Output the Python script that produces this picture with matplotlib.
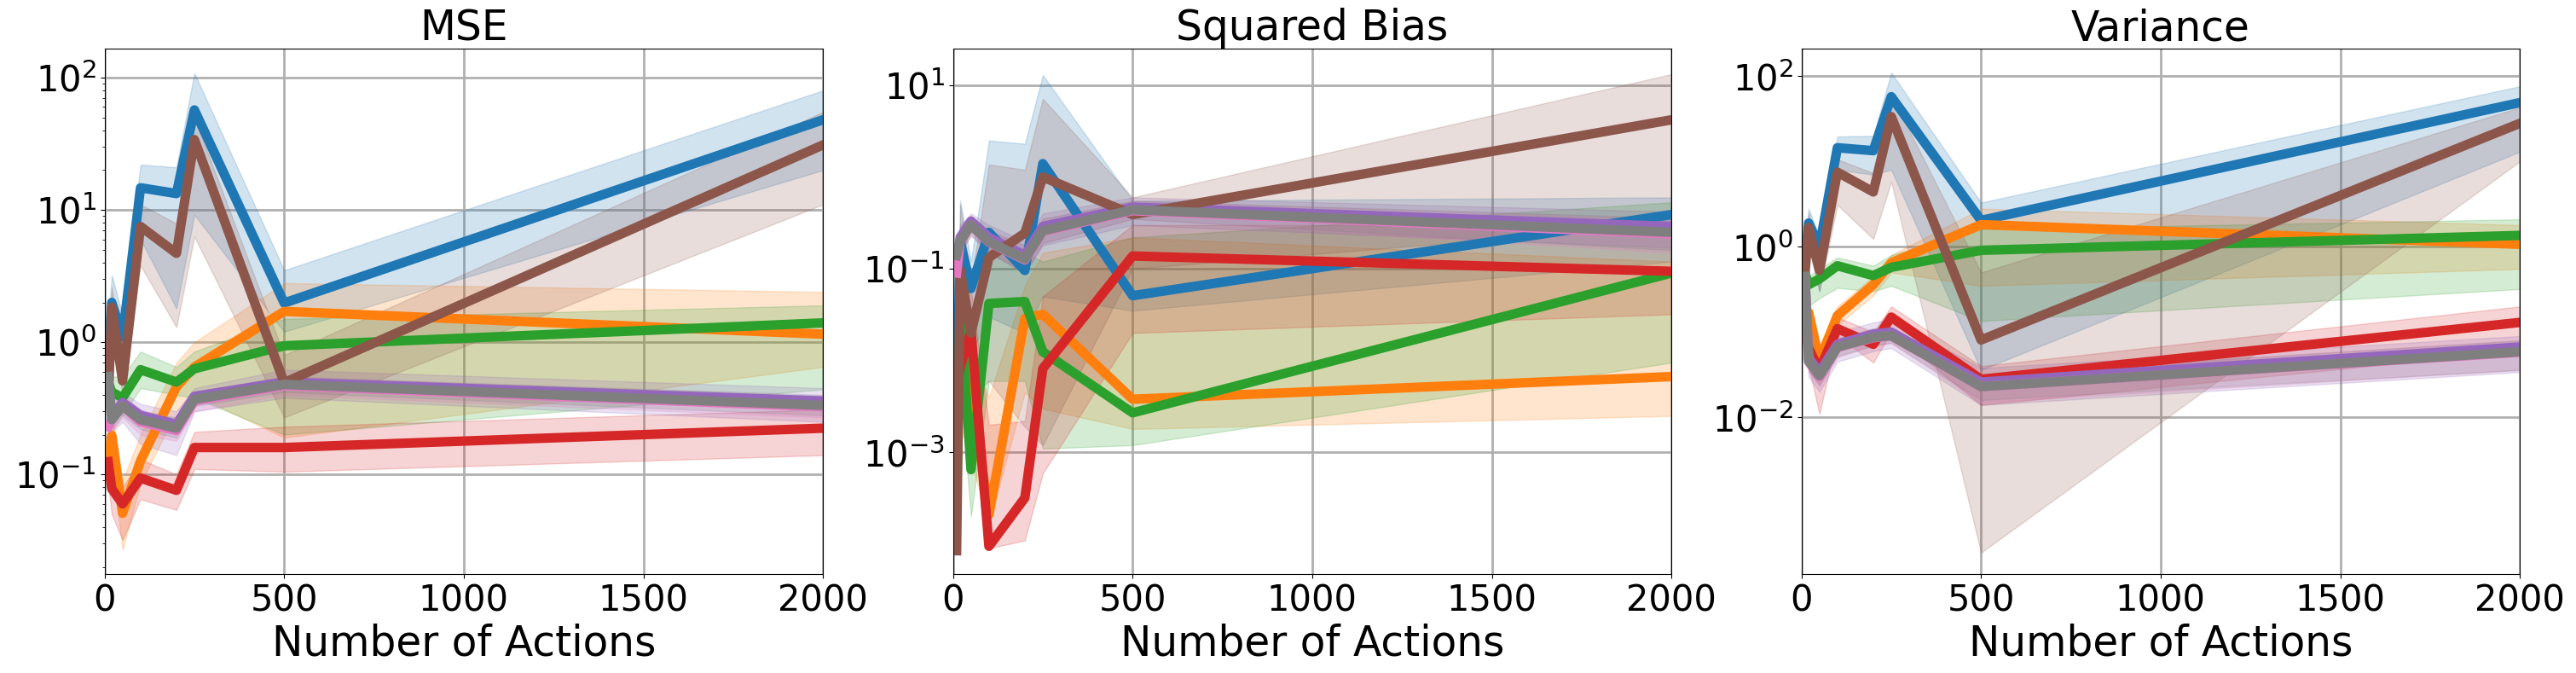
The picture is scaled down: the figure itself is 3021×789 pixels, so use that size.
import numpy as np
import matplotlib
matplotlib.use("Agg")
import matplotlib.pyplot as plt
from matplotlib.ticker import NullLocator

# number of actions (same grid in every panel)
n_actions = [10, 20, 50, 100, 200, 250, 500, 2000]

colors = ["#1f77b4", "#ff7f0e", "#2ca02c", "#d62728",
          "#9467bd", "#8c564b", "#e377c2", "#7f7f7f"]

# ---------------- MSE ----------------
mse_blue = [0.8, 2.0, 1.1, 14.7, 13.3, 57, 1.98, 48]
mse_blue_lo = [0.55, 1.4, 0.65, 6.0, 1.8, 9.2, 1.2, 20]
mse_blue_hi = [1.3, 3.2, 1.6, 22, 21, 108, 3.5, 80]
mse_orange = [0.133, 0.198, 0.051, 0.127, 0.46, 0.65, 1.71, 1.15]
mse_orange_lo = [0.09, 0.13, 0.027, 0.085, 0.3, 0.4, 0.19, 0.65]
mse_orange_hi = [0.2, 0.3, 0.09, 0.2, 0.7, 1.0, 2.8, 2.4]
mse_green = [0.5, 0.42, 0.38, 0.62, 0.5, 0.63, 0.94, 1.4]
mse_green_lo = [0.38, 0.3, 0.28, 0.45, 0.4, 0.38, 0.2, 0.44]
mse_green_hi = [0.65, 0.55, 0.55, 0.85, 0.65, 0.85, 1.5, 1.9]
mse_red = [0.125, 0.078, 0.06, 0.094, 0.076, 0.16, 0.16, 0.224]
mse_red_lo = [0.085, 0.05, 0.032, 0.065, 0.054, 0.11, 0.105, 0.14]
mse_red_hi = [0.19, 0.1, 0.08, 0.13, 0.1, 0.21, 0.23, 0.31]
mse_purple = [0.5, 0.28, 0.35, 0.28, 0.24, 0.39, 0.5, 0.36]
mse_purple_lo = [0.3, 0.21, 0.25, 0.17, 0.14, 0.3, 0.38, 0.25]
mse_purple_hi = [0.7, 0.34, 0.42, 0.34, 0.3, 0.45, 0.62, 0.45]
mse_brown = [0.35, 1.84, 0.51, 7.5, 4.7, 34, 0.495, 31]
mse_brown_lo = [0.2, 1.3, 0.4, 3.8, 1.3, 6.3, 0.27, 11]
mse_brown_hi = [0.6, 2.6, 0.7, 11, 7.9, 50, 0.8, 55]
mse_pink = [0.23, 0.26, 0.33, 0.25, 0.215, 0.36, 0.47, 0.325]
mse_pink_lo = [0.19, 0.21, 0.27, 0.2, 0.18, 0.3, 0.4, 0.27]
mse_pink_hi = [0.28, 0.31, 0.4, 0.31, 0.26, 0.42, 0.55, 0.39]
mse_gray = [0.55, 0.26, 0.33, 0.26, 0.224, 0.37, 0.48, 0.333]
mse_gray_lo = [0.45, 0.22, 0.28, 0.22, 0.19, 0.33, 0.42, 0.28]
mse_gray_hi = [0.65, 0.3, 0.38, 0.3, 0.27, 0.42, 0.55, 0.4]

# ---------------- Squared Bias ----------------
bias_blue = [0.002, 0.2, 0.061, 0.25, 0.096, 1.4, 0.051, 0.39]
bias_blue_lo = [5e-4, 0.03, 0.012, 0.03, 0.02, 0.05, 0.035, 0.12]
bias_blue_hi = [0.01, 0.55, 0.12, 2.5, 2.3, 12.9, 0.55, 0.6]
bias_orange = [0.0089, 0.0074, 0.005, 2.1e-4, 0.029, 0.032, 0.0038, 0.0067]
bias_orange_lo = [0.003, 0.002, 8e-4, 1.7e-4, 0.0045, 0.003, 0.0018, 0.0025]
bias_orange_hi = [0.02, 0.02, 0.012, 0.004, 0.065, 0.15, 0.22, 0.12]
bias_green = [3e-4, 0.041, 6.5e-4, 0.042, 0.044, 0.0125, 0.0027, 0.09]
bias_green_lo = [1e-4, 0.005, 2e-4, 0.006, 0.006, 0.0011, 0.0012, 0.0095]
bias_green_hi = [0.01, 0.2, 0.01, 0.2, 0.15, 0.12, 0.22, 0.53]
bias_red = [0.0055, 0.0085, 0.021, 9.5e-5, 3.2e-4, 0.0082, 0.138, 0.094]
bias_red_lo = [0.002, 0.003, 0.004, 9e-5, 1.1e-4, 5.9e-4, 0.02, 0.032]
bias_red_hi = [0.015, 0.03, 0.06, 0.002, 0.0022, 0.05, 0.3, 0.3]
bias_purple = [0.12, 0.22, 0.33, 0.22, 0.14, 0.29, 0.47, 0.29]
bias_purple_lo = [0.08, 0.15, 0.25, 0.15, 0.09, 0.18, 0.3, 0.17]
bias_purple_hi = [0.18, 0.3, 0.4, 0.3, 0.2, 0.4, 0.6, 0.42]
bias_brown = [8.5e-5, 0.097, 0.02, 0.133, 0.245, 1.0, 0.39, 4.2]
bias_brown_lo = [8.5e-5, 0.01, 0.004, 0.006, 0.0019, 0.0012, 0.1, 0.3]
bias_brown_hi = [3e-4, 0.5, 0.07, 1.37, 1.2, 7.1, 0.6, 13.2]
bias_pink = [0.09, 0.2, 0.3, 0.195, 0.125, 0.255, 0.43, 0.24]
bias_pink_lo = [0.06, 0.15, 0.23, 0.15, 0.09, 0.19, 0.35, 0.15]
bias_pink_hi = [0.13, 0.27, 0.38, 0.26, 0.18, 0.35, 0.55, 0.35]
bias_gray = [0.14, 0.2, 0.3, 0.197, 0.128, 0.26, 0.44, 0.25]
bias_gray_lo = [0.1, 0.15, 0.23, 0.15, 0.09, 0.19, 0.35, 0.16]
bias_gray_hi = [0.2, 0.27, 0.38, 0.26, 0.18, 0.35, 0.55, 0.36]

# ---------------- Variance ----------------
var_blue = [0.63, 1.9, 1.0, 14.5, 13.4, 57.5, 2.04, 49]
var_blue_lo = [0.45, 1.3, 0.3, 8, 7, 8, 0.036, 13]
var_blue_hi = [0.9, 2.8, 1.3, 19.6, 20, 110, 3.3, 76]
var_orange = [0.115, 0.17, 0.046, 0.156, 0.36, 0.65, 1.82, 1.07]
var_orange_lo = [0.08, 0.12, 0.025, 0.12, 0.27, 0.5, 0.35, 0.55]
var_orange_hi = [0.15, 0.25, 0.07, 0.2, 0.45, 0.8, 2.8, 1.8]
var_green = [0.49, 0.36, 0.42, 0.6, 0.46, 0.575, 0.91, 1.36]
var_green_lo = [0.35, 0.2, 0.25, 0.33, 0.3, 0.35, 0.135, 0.32]
var_green_hi = [0.65, 0.45, 0.55, 0.75, 0.6, 0.8, 1.6, 2.1]
var_red = [0.11, 0.065, 0.036, 0.11, 0.072, 0.15, 0.028, 0.13]
var_red_lo = [0.08, 0.04, 0.011, 0.09, 0.044, 0.1, 0.014, 0.06]
var_red_hi = [0.15, 0.09, 0.05, 0.15, 0.1, 0.2, 0.04, 0.2]
var_purple = [0.4, 0.05, 0.034, 0.072, 0.095, 0.1, 0.026, 0.067]
var_purple_lo = [0.3, 0.03, 0.02, 0.045, 0.06, 0.065, 0.014, 0.034]
var_purple_hi = [0.55, 0.07, 0.05, 0.1, 0.13, 0.14, 0.038, 0.09]
var_brown = [0.5, 1.68, 0.53, 7.5, 4.4, 33.6, 0.081, 28]
var_brown_lo = [0.3, 1.0, 0.3, 3.1, 1.24, 5.8, 2.6e-4, 10]
var_brown_hi = [0.8, 2.5, 0.7, 10.6, 7.3, 60, 0.5, 43]
var_pink = [0.43, 0.045, 0.03, 0.066, 0.086, 0.09, 0.023, 0.058]
var_pink_lo = [0.34, 0.034, 0.023, 0.051, 0.069, 0.074, 0.015, 0.036]
var_pink_hi = [0.54, 0.057, 0.04, 0.084, 0.11, 0.11, 0.032, 0.08]
var_gray = [0.45, 0.046, 0.031, 0.067, 0.087, 0.091, 0.023, 0.059]
var_gray_lo = [0.35, 0.035, 0.024, 0.052, 0.07, 0.075, 0.016, 0.036]
var_gray_hi = [0.55, 0.058, 0.04, 0.085, 0.11, 0.11, 0.032, 0.08]

# y-limits and major log ticks per panel
mse_ylim, mse_yticks = (0.0176, 165), [1e-1, 1e0, 1e1, 1e2]
bias_ylim, bias_yticks = (4.7e-5, 24.9), [1e-3, 1e-1, 1e1]
var_ylim, var_yticks = (1.45e-4, 209), [1e-2, 1e0, 1e2]

panels = [
    ("MSE", mse_ylim, mse_yticks, True,
     [(mse_blue, mse_blue_lo, mse_blue_hi),
      (mse_orange, mse_orange_lo, mse_orange_hi),
      (mse_green, mse_green_lo, mse_green_hi),
      (mse_red, mse_red_lo, mse_red_hi),
      (mse_purple, mse_purple_lo, mse_purple_hi),
      (mse_brown, mse_brown_lo, mse_brown_hi),
      (mse_pink, mse_pink_lo, mse_pink_hi),
      (mse_gray, mse_gray_lo, mse_gray_hi)]),
    ("Squared Bias", bias_ylim, bias_yticks, False,
     [(bias_blue, bias_blue_lo, bias_blue_hi),
      (bias_orange, bias_orange_lo, bias_orange_hi),
      (bias_green, bias_green_lo, bias_green_hi),
      (bias_red, bias_red_lo, bias_red_hi),
      (bias_purple, bias_purple_lo, bias_purple_hi),
      (bias_brown, bias_brown_lo, bias_brown_hi),
      (bias_pink, bias_pink_lo, bias_pink_hi),
      (bias_gray, bias_gray_lo, bias_gray_hi)]),
    ("Variance", var_ylim, var_yticks, False,
     [(var_blue, var_blue_lo, var_blue_hi),
      (var_orange, var_orange_lo, var_orange_hi),
      (var_green, var_green_lo, var_green_hi),
      (var_red, var_red_lo, var_red_hi),
      (var_purple, var_purple_lo, var_purple_hi),
      (var_brown, var_brown_lo, var_brown_hi),
      (var_pink, var_pink_lo, var_pink_hi),
      (var_gray, var_gray_lo, var_gray_hi)]),
]

fig, axes = plt.subplots(1, 3, figsize=(30.21, 7.89), dpi=100)
fig.subplots_adjust(left=0.0406, right=0.9782, bottom=0.1466, top=0.9274,
                    wspace=0.181)

for ax, (title, ylim, yticks, minor, series) in zip(axes, panels):
    # bands first, lines on top
    for (mean, lo, hi), c in zip(series, colors):
        ax.fill_between(n_actions, lo, hi, color=c, alpha=0.2, linewidth=1)
    for (mean, lo, hi), c in zip(series, colors):
        ax.plot(n_actions, mean, color=c, linewidth=8)
    ax.set_yscale("log")
    ax.set_xlim(0, 2000)
    ax.set_ylim(*ylim)
    ax.set_yticks(yticks)
    if not minor:
        ax.yaxis.set_minor_locator(NullLocator())
    ax.set_xticks([0, 500, 1000, 1500, 2000])
    ax.set_title(title, fontsize=35)
    ax.set_xlabel("Number of Actions", fontsize=35)
    ax.tick_params(axis="both", which="major", labelsize=30)
    ax.grid(True, color="#b0b0b0", linewidth=2)
    ax.set_axisbelow(True)

fig.savefig("out.png", dpi=100)
